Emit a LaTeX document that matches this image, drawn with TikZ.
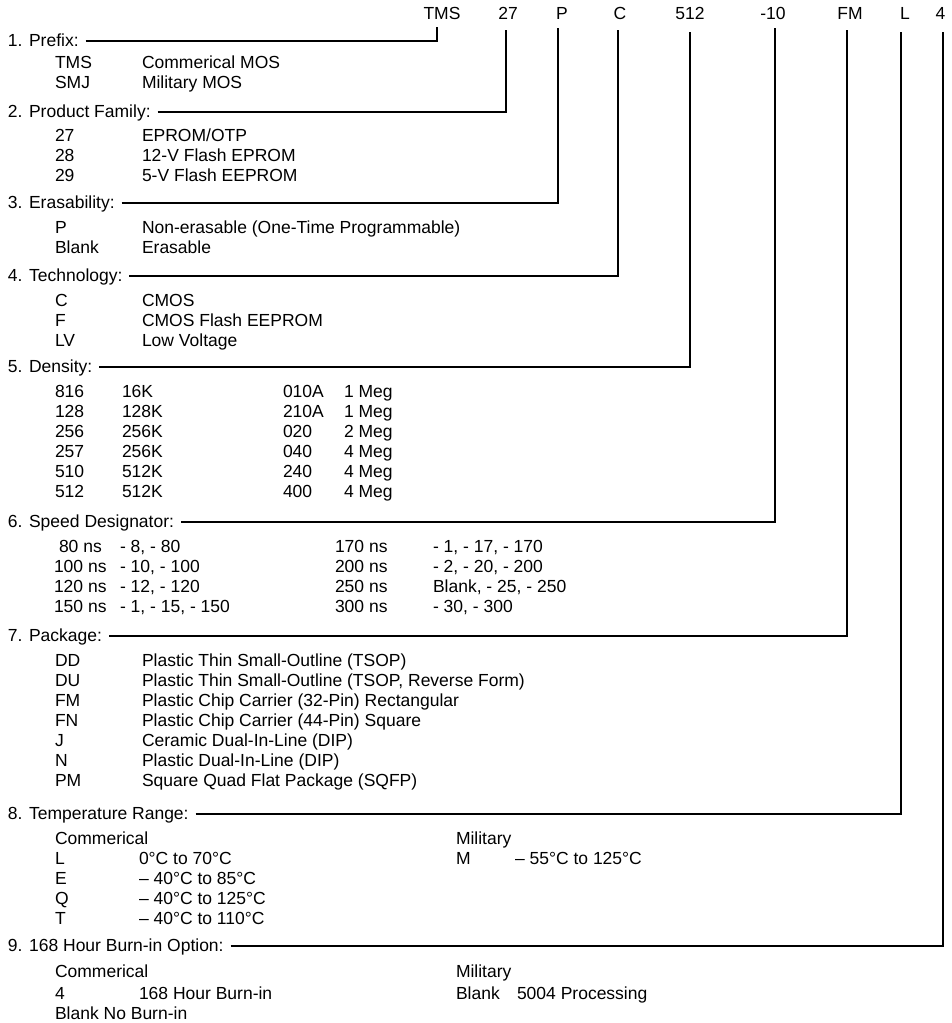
\documentclass[tikz,border=0pt]{standalone}
\usepackage{fontspec}
\setmainfont{Liberation Sans}
\begin{document}
\begin{tikzpicture}[x=1pt,y=-1pt,
  every node/.style={inner sep=0pt,outer sep=0pt,font=\fontsize{17.5}{20}\selectfont},
  txt/.style={anchor=base west},
  toplab/.style={anchor=base},
  conn/.style={line width=1.2pt}]
\useasboundingbox (0,0) rectangle (951,1023);
% top part number
\node[toplab] (t1) at (442,19) {TMS};
\node[toplab] (t2) at (508,19) {27};
\node[toplab] (t3) at (562,19) {P};
\node[toplab] (t4) at (620,19) {C};
\node[toplab] (t5) at (690,19) {512};
\node[toplab] (t6) at (773,19) {-10};
\node[toplab] (t7) at (850,19) {FM};
\node[toplab] (t8) at (905,19) {L};
\node[toplab] (t9) at (940.5,19) {4};
\coordinate (v1) at (437,27);
\coordinate (v2) at (506,30);
\coordinate (v3) at (558,28);
\coordinate (v4) at (618,30);
\coordinate (v5) at (690,32);
\coordinate (v6) at (775,28);
\coordinate (v7) at (847,30);
\coordinate (v8) at (901,32);
\coordinate (v9) at (943,32);
% headings
\node[txt] (h1) at (8,46) {1. Prefix:};
\node[txt] (h2) at (8,117) {2. Product Family:};
\node[txt] (h3) at (8,208) {3. Erasability:};
\node[txt] (h4) at (8,281) {4. Technology:};
\node[txt] (h5) at (8,372) {5. Density:};
\node[txt] (h6) at (8,527) {6. Speed Designator:};
\node[txt] (h7) at (8,641) {7. Package:};
\node[txt] (h8) at (8,819) {8. Temperature Range:};
\node[txt] (h9) at (8,951) {9. 168 Hour Burn-in Option:};
% connectors
\foreach \i in {1,...,9}{
  \draw[conn] ([xshift=7pt,yshift=5pt]h\i.base east) -| (v\i);
}
% 1
\node[txt] (a1) at (55,68) {TMS};   \node[txt] (b1) at (142,68) {Commerical MOS};
\node[txt] (a2) at (55,88) {SMJ};   \node[txt] (b2) at (142,88) {Military MOS};
% 2
\node[txt] (c1) at (55,141) {27};   \node[txt] (d1) at (142,141) {EPROM/OTP};
\node[txt] (c2) at (55,161) {28};   \node[txt] (d2) at (142,161) {12-V Flash EPROM};
\node[txt] (c3) at (55,181) {29};   \node[txt] (d3) at (142,181) {5-V Flash EEPROM};
% 3
\node[txt] (e1) at (55,233) {P};     \node[txt] (f1) at (142,233) {Non-erasable (One-Time Programmable)};
\node[txt] (e2) at (55,253) {Blank}; \node[txt] (f2) at (142,253) {Erasable};
% 4
\node[txt] (g1) at (55,306) {C};   \node[txt] (k1) at (142,306) {CMOS};
\node[txt] (g2) at (55,326) {F};   \node[txt] (k2) at (142,326) {CMOS Flash EEPROM};
\node[txt] (g3) at (55,346) {LV};  \node[txt] (k3) at (142,346) {Low Voltage};
% 5
\node[txt] (m1) at (55,397) {816}; \node[txt] (n1) at (122,397) {16K};  \node[txt] (o1) at (283,397) {010A}; \node[txt] (p1) at (344,397) {1 Meg};
\node[txt] (m2) at (55,417) {128}; \node[txt] (n2) at (122,417) {128K}; \node[txt] (o2) at (283,417) {210A}; \node[txt] (p2) at (344,417) {1 Meg};
\node[txt] (m3) at (55,437) {256}; \node[txt] (n3) at (122,437) {256K}; \node[txt] (o3) at (283,437) {020};  \node[txt] (p3) at (344,437) {2 Meg};
\node[txt] (m4) at (55,457) {257}; \node[txt] (n4) at (122,457) {256K}; \node[txt] (o4) at (283,457) {040};  \node[txt] (p4) at (344,457) {4 Meg};
\node[txt] (m5) at (55,477) {510}; \node[txt] (n5) at (122,477) {512K}; \node[txt] (o5) at (283,477) {240};  \node[txt] (p5) at (344,477) {4 Meg};
\node[txt] (m6) at (55,497) {512}; \node[txt] (n6) at (122,497) {512K}; \node[txt] (o6) at (283,497) {400};  \node[txt] (p6) at (344,497) {4 Meg};
% 6
\node[txt] (q1) at (59,552) {80 ns};  \node[txt] (r1) at (120,552) {- 8, - 80};     \node[txt] (s1) at (335,552) {170 ns}; \node[txt] (u1) at (433,552) {- 1, - 17, - 170};
\node[txt] (q2) at (54,572) {100 ns}; \node[txt] (r2) at (120,572) {- 10, - 100};   \node[txt] (s2) at (335,572) {200 ns}; \node[txt] (u2) at (433,572) {- 2, - 20, - 200};
\node[txt] (q3) at (54,592) {120 ns}; \node[txt] (r3) at (120,592) {- 12, - 120};   \node[txt] (s3) at (335,592) {250 ns}; \node[txt] (u3) at (433,592) {Blank, - 25, - 250};
\node[txt] (q4) at (54,612) {150 ns}; \node[txt] (r4) at (120,612) {- 1, - 15, - 150}; \node[txt] (s4) at (335,612) {300 ns}; \node[txt] (u4) at (433,612) {- 30, - 300};
% 7
\node[txt] (w1) at (55,666) {DD}; \node[txt] (z1) at (142,666) {Plastic Thin Small-Outline (TSOP)};
\node[txt] (w2) at (55,686) {DU}; \node[txt] (z2) at (142,686) {Plastic Thin Small-Outline (TSOP, Reverse Form)};
\node[txt] (w3) at (55,706) {FM}; \node[txt] (z3) at (142,706) {Plastic Chip Carrier (32-Pin) Rectangular};
\node[txt] (w4) at (55,726) {FN}; \node[txt] (z4) at (142,726) {Plastic Chip Carrier (44-Pin) Square};
\node[txt] (w5) at (55,746) {J};  \node[txt] (z5) at (142,746) {Ceramic Dual-In-Line (DIP)};
\node[txt] (w6) at (55,766) {N};  \node[txt] (z6) at (142,766) {Plastic Dual-In-Line (DIP)};
\node[txt] (w7) at (55,786) {PM}; \node[txt] (z7) at (142,786) {Square Quad Flat Package (SQFP)};
% 8
\node[txt] (tc) at (55,844) {Commerical}; \node[txt] (tm) at (456,844) {Military};
\node[txt] (x1) at (55,864) {L}; \node[txt] (y1) at (139,864) {0°C to 70°C};
\node[txt] (xm) at (456,864) {M}; \node[txt] (ym) at (515,864) {– 55°C to 125°C};
\node[txt] (x2) at (55,884) {E}; \node[txt] (y2) at (139,884) {– 40°C to 85°C};
\node[txt] (x3) at (55,904) {Q}; \node[txt] (y3) at (139,904) {– 40°C to 125°C};
\node[txt] (x4) at (55,924) {T}; \node[txt] (y4) at (139,924) {– 40°C to 110°C};
% 9
\node[txt] (bc) at (55,977) {Commerical}; \node[txt] (bm) at (456,977) {Military};
\node[txt] (bx1) at (55,999) {4}; \node[txt] (by1) at (139,999) {168 Hour Burn-in};
\node[txt] (bxm) at (456,999) {Blank}; \node[txt] (bym) at (517,999) {5004 Processing};
\node[txt] (bx2) at (55,1019) {Blank No Burn-in};
\end{tikzpicture}
\end{document}
